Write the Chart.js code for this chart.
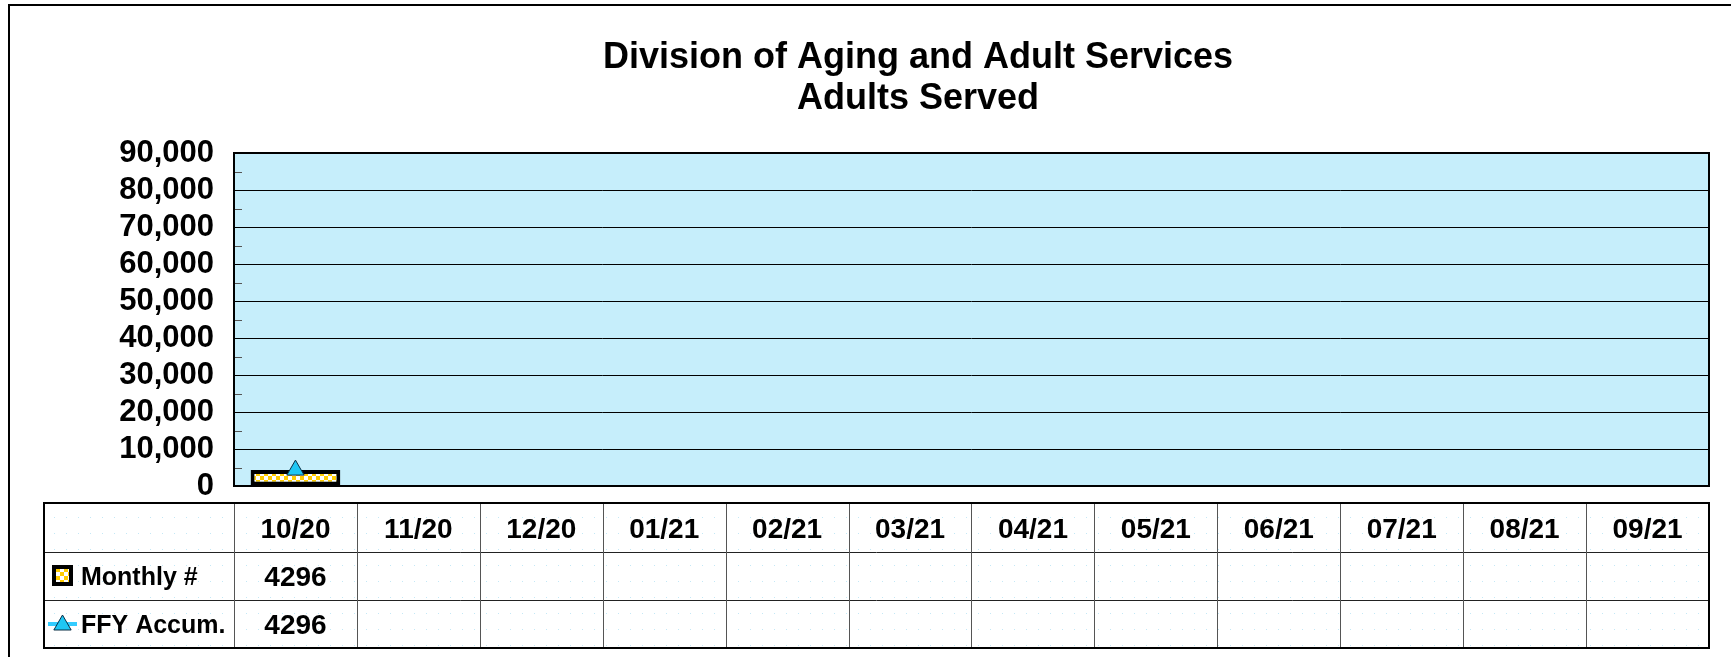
<!DOCTYPE html>
<html>
<head>
<meta charset="utf-8">
<title>Adults Served</title>
<script src="https://cdn.jsdelivr.net/npm/chart.js@4.4.1/dist/chart.umd.min.js"></script>
<style>
  html, body { margin: 0; padding: 0; background: #fff; }
  #wrap { width: 1731px; height: 657px; position: relative; }
</style>
</head>
<body>
<div id="wrap"><canvas id="grafico" width="1731" height="657"></canvas></div>
<script>
// dados do grafico
const months = ['10/20', '11/20', '12/20', '01/21', '02/21', '03/21', '04/21', '05/21', '06/21', '07/21', '08/21', '09/21'];
const monthlyCount = [4296, null, null, null, null, null, null, null, null, null, null, null];
const ffyAccum = [4296, null, null, null, null, null, null, null, null, null, null, null];
const seriesLabels = ['Monthly #', 'FFY Accum.'];
const titleLines = ['Division of Aging and Adult Services', 'Adults Served'];
const yMax = 90000;
const yStep = 10000;

const FONT = "'Liberation Sans', Arial, Helvetica, sans-serif";
const PLOT_BG = '#C6EEFB';
const TRI_FILL = '#1FC6F3';
const TRI_EDGE = '#0B2E44';

Chart.defaults.font.family = FONT;
Chart.defaults.color = '#000';

// padrao xadrez amarelo da barra
function makeChecker() {
  const c = document.createElement('canvas');
  c.width = 8; c.height = 8;
  const g = c.getContext('2d');
  g.fillStyle = '#fff';
  g.fillRect(0, 0, 8, 8);
  g.fillStyle = '#FFCC00';
  g.fillRect(0, 0, 4, 4);
  g.fillRect(4, 4, 4, 4);
  return c;
}

// pontinhos azuis do fundo da tabela
function makeDots() {
  const c = document.createElement('canvas');
  c.width = 12; c.height = 16;
  const g = c.getContext('2d');
  g.fillStyle = '#fff';
  g.fillRect(0, 0, 12, 16);
  g.fillStyle = '#C4E8F6';
  g.fillRect(6, 5, 1, 1);
  return c;
}

const ctx = document.getElementById('grafico').getContext('2d');
const checker = ctx.createPattern(makeChecker(), 'repeat');
const dots = ctx.createPattern(makeDots(), 'repeat');

function drawTriangle(g, x, y, r) {
  g.beginPath();
  g.moveTo(x, y - r);
  g.lineTo(x + r * Math.sin(Math.PI * 2 / 3), y + r / 2);
  g.lineTo(x - r * Math.sin(Math.PI * 2 / 3), y + r / 2);
  g.closePath();
  g.fillStyle = TRI_FILL;
  g.fill();
  g.lineWidth = 1;
  g.strokeStyle = TRI_EDGE;
  g.stroke();
}

const fundoPlugin = {
  id: 'fundo',
  beforeDraw(chart) {
    const g = chart.ctx;
    const a = chart.chartArea;
    g.save();
    g.fillStyle = '#fff';
    g.fillRect(0, 0, chart.width, chart.height);
    // moldura externa
    g.strokeStyle = '#000';
    g.lineWidth = 2;
    g.beginPath();
    g.moveTo(9, chart.height + 2);
    g.lineTo(9, 5);
    g.lineTo(chart.width + 2, 5);
    g.stroke();
    g.fillStyle = PLOT_BG;
    g.fillRect(a.left, a.top, a.right - a.left, a.bottom - a.top);
    g.restore();
  },
  beforeDatasetsDraw(chart) {
    // marcas menores dentro do eixo y
    const g = chart.ctx;
    const y = chart.scales.y;
    const a = chart.chartArea;
    g.save();
    g.strokeStyle = '#555';
    g.lineWidth = 1;
    for (let v = yStep / 2; v < yMax; v += yStep) {
      const py = Math.round(y.getPixelForValue(v)) + 0.5;
      g.beginPath();
      g.moveTo(a.left, py);
      g.lineTo(a.left + 8, py);
      g.stroke();
    }
    g.restore();
  },
  afterDatasetsDraw(chart) {
    const g = chart.ctx;
    const a = chart.chartArea;
    g.save();
    g.strokeStyle = '#000';
    g.lineWidth = 2;
    g.strokeRect(a.left, a.top, a.right - a.left, a.bottom - a.top);
    g.restore();
  }
};

// tabela de dados embaixo do grafico
const tabelaPlugin = {
  id: 'tabela',
  afterDraw(chart) {
    const g = chart.ctx;
    const xs = chart.scales.x;
    const a = chart.chartArea;
    const left = 44, top = 503;
    const rows = [49, 48, 48];
    const bottom = top + rows.reduce((s, h) => s + h, 0);
    const colW = (a.right - a.left) / months.length;

    g.save();
    g.fillStyle = dots;
    g.fillRect(left, top, a.right - left, bottom - top);

    // linhas internas
    g.lineWidth = 1;
    g.strokeStyle = '#222';
    let yy = top;
    for (let r = 0; r < rows.length - 1; r++) {
      yy += rows[r];
      g.beginPath();
      g.moveTo(left, yy + 0.5);
      g.lineTo(a.right, yy + 0.5);
      g.stroke();
    }
    g.strokeStyle = '#555';
    for (let i = 0; i < months.length; i++) {
      const bx = Math.round(xs.getPixelForValue(i) - colW / 2) + 0.5;
      g.beginPath();
      g.moveTo(bx, top);
      g.lineTo(bx, bottom);
      g.stroke();
    }
    g.strokeStyle = '#000';
    g.lineWidth = 2;
    g.strokeRect(left, top, a.right - left, bottom - top);

    // cabecalho dos meses
    g.fillStyle = '#000';
    g.textAlign = 'center';
    g.textBaseline = 'alphabetic';
    g.font = 'bold 28px ' + FONT;
    const cy0 = top + rows[0] / 2;
    months.forEach((m, i) => {
      g.fillText(m, xs.getPixelForValue(i), cy0 + 10);
    });

    // linhas de valores
    const series = [monthlyCount, ffyAccum];
    let rowTop = top + rows[0];
    series.forEach((vals, r) => {
      const cy = rowTop + rows[r + 1] / 2;
      g.font = 'bold 28px ' + FONT;
      g.textAlign = 'center';
      vals.forEach((v, i) => {
        if (v !== null) g.fillText(String(v), xs.getPixelForValue(i), cy + 10);
      });
      g.font = 'bold 25px ' + FONT;
      g.textAlign = 'left';
      g.fillText(seriesLabels[r], 81, cy + 9);
      if (r === 0) {
        g.fillStyle = '#000';
        g.fillRect(52, cy - 11, 21, 21);
        g.fillStyle = checker;
        g.fillRect(56, cy - 7, 13, 13);
        g.fillStyle = '#000';
      } else {
        g.strokeStyle = '#33CCFF';
        g.lineWidth = 4;
        g.beginPath();
        g.moveTo(48, cy);
        g.lineTo(77, cy);
        g.stroke();
        drawTriangle(g, 62.5, cy + 1, 10);
        g.fillStyle = '#000';
      }
      rowTop += rows[r + 1];
    });
    g.restore();
  }
};

new Chart(ctx, {
  type: 'bar',
  data: {
    labels: months,
    datasets: [
      {
        type: 'line',
        label: seriesLabels[1],
        data: ffyAccum,
        order: 0,
        borderColor: '#33CCFF',
        borderWidth: 3,
        pointStyle: 'triangle',
        pointRadius: 10,
        pointBackgroundColor: TRI_FILL,
        pointBorderColor: TRI_EDGE,
        pointBorderWidth: 1,
        fill: false
      },
      {
        label: seriesLabels[0],
        data: monthlyCount,
        order: 1,
        backgroundColor: checker,
        borderColor: '#000',
        borderWidth: 4,
        borderSkipped: false,
        barPercentage: 0.73,
        categoryPercentage: 1.0
      }
    ]
  },
  options: {
    responsive: false,
    animation: false,
    layout: {
      padding: { left: 105, right: 0, top: 38, bottom: 171 }
    },
    plugins: {
      legend: { display: false },
      tooltip: { enabled: false },
      title: {
        display: true,
        text: titleLines,
        color: '#000',
        font: { size: 36, weight: 'bold', lineHeight: 41 / 36 },
        padding: { top: 0, bottom: 33 }
      }
    },
    scales: {
      x: {
        display: false,
        offset: true
      },
      y: {
        min: 0,
        max: yMax,
        border: { display: false },
        grid: { color: '#000', lineWidth: 1, drawTicks: false },
        ticks: {
          stepSize: yStep,
          autoSkip: false,
          padding: 20,
          color: '#000',
          font: { size: 31, weight: 'bold', lineHeight: 1 },
          callback: v => v.toLocaleString('en-US')
        },
        afterFit: s => { s.width = 129; }
      },
      // eixo vazio a direita so para reservar a margem
      yR: {
        type: 'linear',
        position: 'right',
        display: true,
        grid: { display: false, drawTicks: false },
        border: { display: false },
        ticks: { display: false },
        afterFit: s => { s.width = 22; }
      }
    }
  },
  plugins: [fundoPlugin, tabelaPlugin]
});
</script>
</body>
</html>
